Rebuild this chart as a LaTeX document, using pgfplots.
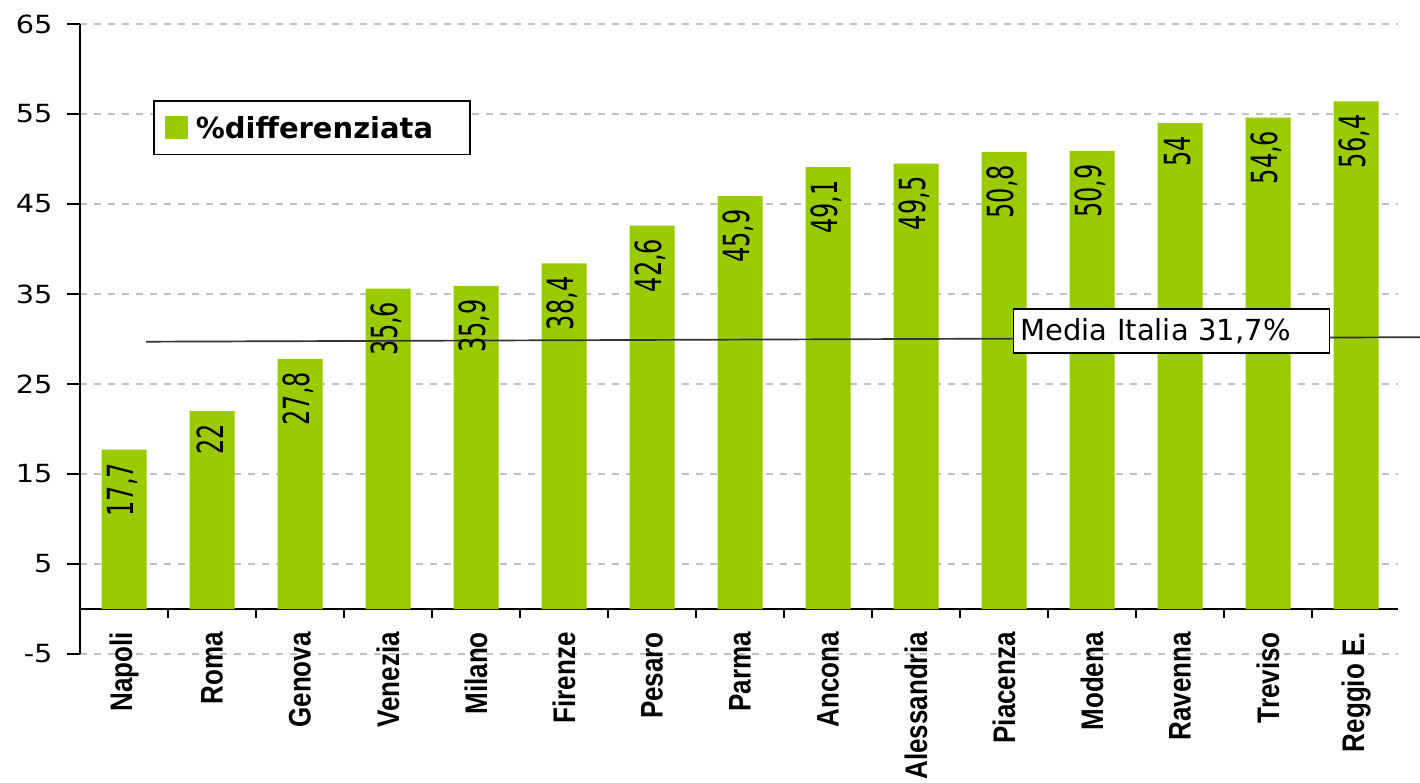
\documentclass[border=0pt]{standalone}
\usepackage{pgfplots}
\pgfplotsset{compat=1.18}
\usepackage{fontspec}
\setmainfont{DejaVu Sans}
\newfontfamily\catfont{Liberation Sans}
\definecolor{barg}{HTML}{99CC00}
\definecolor{gridc}{HTML}{C0C0C0}
\newcommand{\cl}[1]{\scalebox{1.2}[1]{\rotatebox{90}{\fontsize{26}{26}\selectfont\catfont\bfseries #1}}}
\begin{document}
\begin{tikzpicture}
\path[use as bounding box] (-80pt,-128pt) rectangle (1340pt,654pt);
\begin{axis}[
  scale only axis, width=1318pt, height=630pt,
  xmin=-0.5, xmax=14.477, ymin=-5, ymax=65,
  axis y line=left, axis x line=middle,
  x axis line style={-, line width=1.5pt},
  y axis line style={-, line width=1.5pt},
  clip=false,
  ytick={-5,5,...,65},
  xtick={0,...,14},
  xticklabels={\cl{Napoli},\cl{Roma},\cl{Genova},\cl{Venezia},\cl{Milano},\cl{Firenze},\cl{Pesaro},\cl{Parma},\cl{Ancona},\cl{Alessandria},\cl{Piacenza},\cl{Modena},\cl{Ravenna},\cl{Treviso},\cl{Reggio E.}},
  minor xtick={0.5,1.5,...,13.5},
  every major x tick/.append style={draw=none},
  tick align=outside,
  major tick length=13pt,
  minor tick length=9pt,
  tick style={black, line width=1.5pt},
  ymajorgrids,
  major grid style={gridc, dash pattern=on 7pt off 7pt, line width=1.2pt},
  /pgf/number format/assume math mode=true,
  /pgf/number format/use comma,
  yticklabel={\scalebox{1.15}[1]{\pgfmathprintnumber{\tick}}},
  yticklabel style={font=\fontsize{25}{25}\selectfont, xshift=-11pt},
  xticklabel style={anchor=north, inner sep=0pt, yshift=-10pt},
  legend style={at={(0.0554,0.879)}, anchor=north west, draw=black, line width=1.5pt,
    font=\fontsize{29}{29}\selectfont\bfseries, inner xsep=8pt, inner ysep=13pt},
  legend image code/.code={\fill[barg] (3pt,-11.5pt) rectangle (26pt,11.5pt); \path (0pt,0pt) -- (32pt,0pt);},
]
\addplot[ybar, bar width=45pt, fill=barg, draw=none,
  nodes near coords={\scalebox{1.5}[1]{\rotatebox{90}{\pgfmathprintnumber{\pgfplotspointmeta}}}},
  every node near coord/.append style={anchor=north, inner sep=0pt, yshift=-13pt, xshift=-2pt, font=\fontsize{24}{24}\selectfont, black}]
 coordinates {(0,17.7) (1,22) (2,27.8) (3,35.6) (4,35.9) (5,38.4) (6,42.6) (7,45.9) (8,49.1) (9,49.5) (10,50.8) (11,50.9) (12,54) (13,54.6) (14,56.4)};
\addlegendentry{\%differenziata\hspace*{27pt}\mbox{}}
\addplot[black!80, line width=1.7pt, forget plot] coordinates {(0.25,29.7) (14.73,30.2)};
\node[draw=black, fill=white, line width=1.2pt, anchor=west, inner xsep=7pt, text width=302pt, minimum height=44pt, font=\fontsize{29}{29}\selectfont, align=left] at (axis cs:10.1,30.9) {Media Italia 31,7\%};
\end{axis}
\end{tikzpicture}
\end{document}
